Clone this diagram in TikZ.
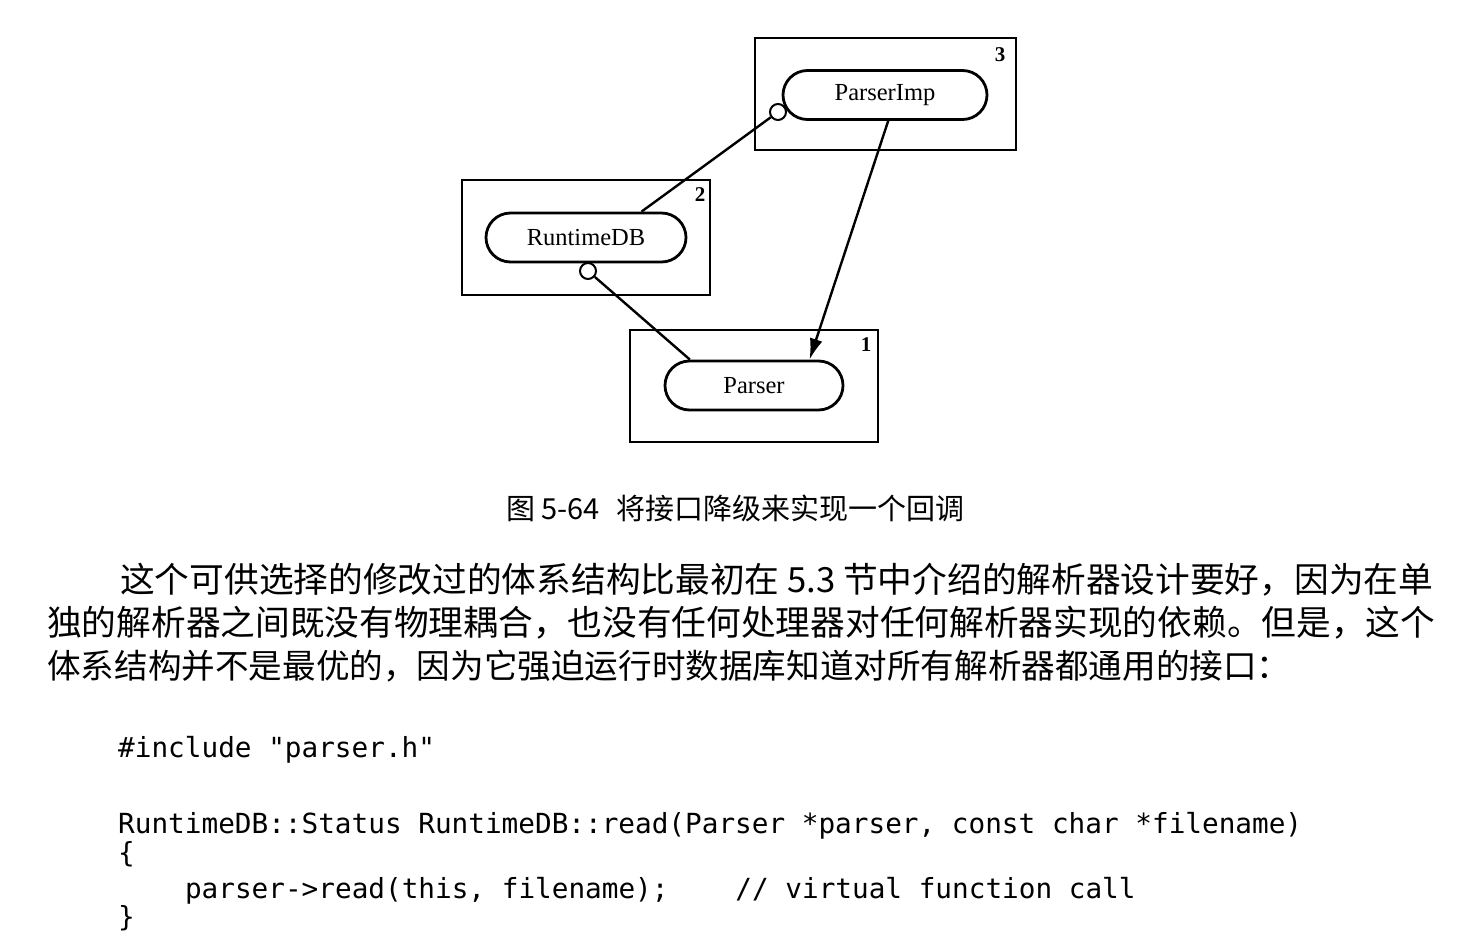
\documentclass[tikz,border=0pt]{standalone}
\usepackage{fontspec}
\setmainfont{Liberation Serif}
\newfontfamily\cjk{Noto Sans CJK SC}
\newfontfamily\codefont{DejaVu Sans Mono}
\usetikzlibrary{arrows.meta}
\tikzset{
  frame/.style={draw, line width=1.3pt, inner sep=0},
  comp/.style={draw, fill=white, line width=2.8pt, rounded corners=24.5pt, minimum height=49pt, inner sep=0, font=\fontsize{24.5}{28}\selectfont},
  lolli/.style={circle, draw, fill=white, line width=2pt, minimum size=16pt, inner sep=0},
  conn/.style={line width=2.4pt},
  num/.style={inner sep=0, font=\bfseries\fontsize{21}{24}\selectfont},
  body/.style={anchor=west, inner sep=0, font=\cjk\fontsize{34.7}{40}\selectfont},
  code/.style={anchor=base west, inner sep=0, font=\codefont\fontsize{27.7}{32}\selectfont}
}
\begin{document}
\begin{tikzpicture}[x=1pt,y=-1pt]
\path[use as bounding box, fill=white] (0,0) rectangle (1458,952);
% frames
\node[frame, minimum width=261pt, minimum height=112pt] (b3) at (885.5,94) {};
\node[frame, minimum width=248pt, minimum height=115pt] (b2) at (586,237.5) {};
\node[frame, minimum width=248pt, minimum height=112pt] (b1) at (754,386) {};
\node[num] (n3) at (1000,55) {3};
\node[num] (n2) at (700,195) {2};
\node[num] (n1) at (866,345) {1};
% components
\node[comp, minimum width=204pt] (pimp) at (885,95) {ParserImp};
\node[comp, minimum width=200pt] (rdb) at (586,237.5) {RuntimeDB};
\node[comp, minimum width=178pt] (parser) at (754,385.5) {Parser};
% lollipops
\node[lolli] (c1) at (778,112) {};
\node[lolli] (c2) at (588,271) {};
\draw[conn] (c1) -- (rdb.25);
\draw[conn] (c2) -- (parser.158);
\draw[conn, -{Latex[length=21pt,width=13pt]}] (pimp.-83) -- (parser.25);
% caption
\node[anchor=west, inner sep=0, font=\cjk\fontsize{29}{34}\selectfont] (cap) at (506,508) {图 5-64\hspace{16pt}将接口降级来实现一个回调};
% body text
\node[body] (l1) at (120,580) {这个可供选择的修改过的体系结构比最初在 5.3 节中介绍的解析器设计要好，因为在单};
\node[body] (l2) at (47,623) {独的解析器之间既没有物理耦合，也没有任何处理器对任何解析器实现的依赖。但是，这个};
\node[body, font=\cjk\fontsize{33.6}{40}\selectfont] (l3) at (47,666) {体系结构并不是最优的，因为它强迫运行时数据库知道对所有解析器都通用的接口：};
% code
\node[code] (k1) at (118,757) {\#include "parser.h"};
\node[code] (k2) at (118,833) {RuntimeDB::Status RuntimeDB::read(Parser *parser, const char *filename)};
\node[code] (k3) at (118,862) {\{};
\node[code] (k4) at (118,898) {\hspace*{66.8pt}parser->read(this, filename);\hspace*{66.8pt}// virtual function call};
\node[code] (k5) at (118,926) {\}};
\end{tikzpicture}
\end{document}
